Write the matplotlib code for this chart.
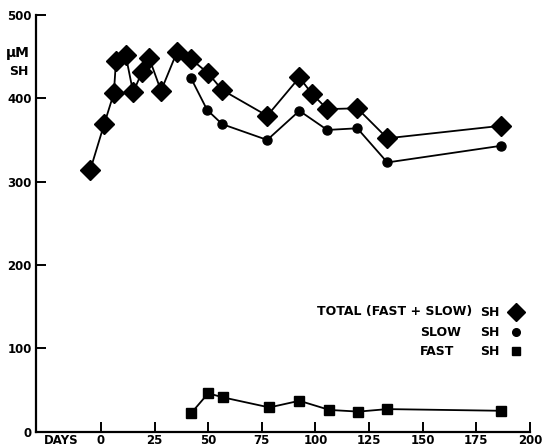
import matplotlib.pyplot as plt

# data
total_days = [-5, 1.5, 6, 7, 11.5, 15, 19, 22.5, 28, 35.5, 42, 50, 56.5, 77.5, 92.5, 98.5, 105.5, 119.5, 133.5, 186.5]
total_sh = [314, 369, 406, 445, 452, 407, 431, 448, 409, 456, 447, 430, 410, 379, 425, 405, 387, 388, 352, 367]

slow_days = [42, 49.5, 56.5, 77.5, 92.5, 105.5, 119.5, 133.5, 186.5]
slow_sh = [424, 386, 369, 350, 385, 362, 364, 323, 343]

fast_days = [42, 50, 57, 78.5, 92.5, 106.5, 120, 133.5, 186.5]
fast_sh = [22, 46, 41, 29, 37, 26, 24, 27, 25]

x_ticks = [0, 25, 50, 75, 100, 125, 150, 175, 200]
y_ticks = [0, 100, 200, 300, 400, 500]

fig = plt.figure(figsize=(5.42, 4.48), dpi=100)
ax = fig.add_axes([0.0664, 0.0366, 0.9114, 0.930])

ax.plot(total_days, total_sh, color='black', lw=1.3, marker='D', ms=10.5, zorder=3)
ax.plot(slow_days, slow_sh, color='black', lw=1.3, marker='o', ms=6.5, zorder=3)
ax.plot(fast_days, fast_sh, color='black', lw=1.3, marker='s', ms=7, zorder=3)

ax.set_xlim(-30.3, 200)
ax.set_ylim(0, 500)
ax.set_xticks(x_ticks)
ax.set_yticks(y_ticks)
ax.set_xticklabels([str(t) for t in x_ticks], fontweight='bold', fontsize=8.5)
ax.set_yticklabels([str(t) for t in y_ticks], fontweight='bold', fontsize=8.5)
ax.tick_params(axis='both', direction='in', length=7, width=1.4, pad=2)
ax.tick_params(axis='y', pad=3)

for side in ['top', 'right']:
    ax.spines[side].set_visible(False)
for side in ['left', 'bottom']:
    ax.spines[side].set_linewidth(1.6)

# axis labels
ax.text(-18.5, -3, 'DAYS', ha='center', va='top', fontweight='bold', fontsize=8.5,
        transform=ax.transData, clip_on=False)
fig.text(0.033, 0.882, 'µM', ha='center', va='center', fontweight='bold', fontsize=10)
fig.text(0.035, 0.840, 'SH', ha='center', va='center', fontweight='bold', fontsize=9)

# legend drawn as text + markers
def px2fig(x, y):
    return x / 542, 1 - y / 448

rows = [('TOTAL (FAST + SLOW)', 312, 'D', 9.5), ('SLOW', 332, 'o', 5.5), ('FAST', 351, 's', 6)]
for label, ypx, mk, ms in rows:
    if label.startswith('TOTAL'):
        fx, fy = px2fig(472, ypx)
        fig.text(fx, fy, label, ha='right', va='center', fontweight='bold', fontsize=9)
    else:
        fx, fy = px2fig(420, ypx)
        fig.text(fx, fy, label, ha='left', va='center', fontweight='bold', fontsize=9)
    fx, fy = px2fig(480, ypx)
    fig.text(fx, fy, 'SH', ha='left', va='center', fontweight='bold', fontsize=9)
    fx, fy = px2fig(516, ypx)
    fig.lines.append(plt.Line2D([fx], [fy], marker=mk, ms=ms, color='black',
                                transform=fig.transFigure, figure=fig))

fig.savefig('out.png', dpi=100)
